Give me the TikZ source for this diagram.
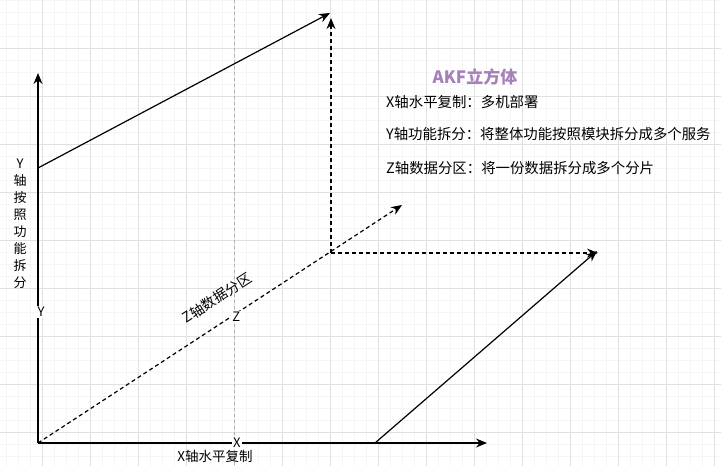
\documentclass[tikz,border=0pt]{standalone}
\usepackage{fontspec}
\setmainfont{Noto Sans CJK SC}
\usetikzlibrary{arrows.meta,positioning}
\definecolor{akfpurple}{HTML}{A680B8}
\tikzset{
    axis/.style = {draw, line width=1.2pt, -{Stealth[length=11pt,width=9pt]}},
    dasharrow/.style = {draw, line width=1.4pt, dash pattern=on 4pt off 3pt, -{Stealth[length=11pt,width=9pt,line width=0pt]}},
    axislbl/.style = {fill=white, inner sep=1pt, font=\fontsize{13}{15}\selectfont},
    lbl/.style = {inner sep=0pt, font=\fontsize{13}{17}\selectfont, align=center},
    note/.style = {anchor=west, inner sep=0pt, font=\fontsize{14.4}{17}\selectfont},
    gridminor/.style = {draw=black!4, line width=0.8pt},
    gridmajor/.style = {draw=black!12, line width=0.8pt},
    guide/.style = {draw=black!30, line width=0.8pt, dash pattern=on 3pt off 3pt}
}

\begin{document}
\begin{tikzpicture}[x=1pt,y=-1pt]
    \useasboundingbox (0,0) rectangle (721,466);
    \fill[white] (0,0) rectangle (721,466);
    % background grid
    \foreach \gx in {6,18,...,714} \draw[gridminor] (\gx,0) -- (\gx,466);
    \foreach \gy in {0,12,...,460} \draw[gridminor] (0,\gy) -- (721,\gy);
    \foreach \gx in {42,90,...,714} \draw[gridmajor] (\gx,0) -- (\gx,466);
    \foreach \gy in {48,96,...,432} \draw[gridmajor] (0,\gy) -- (721,\gy);
    \draw[guide] (234,0) -- (234,466);

    \coordinate (O) at (38,443);
    \coordinate (ytip) at (38,73);
    \coordinate (xtip) at (487,443);
    \coordinate (ztip) at (402,205);
    \coordinate (yup) at (38,168);
    \coordinate (ytop) at (330,13);
    \coordinate (corner) at (331,253);
    \coordinate (vtop) at (331,18);
    \coordinate (htip) at (598,253);
    \coordinate (xstart) at (375,443);
    \coordinate (rtip) at (597,251);

    % axes
    \draw [axis] (O) -- node[axislbl, pos=0.354, xshift=3pt] {Y} (ytip);
    \draw [axis] (O) -- node[axislbl, pos=0.443] {X} (xtip);
    \draw [dasharrow, line width=1.2pt] (O) -- node[axislbl, pos=0.545, yshift=-3pt] {Z} (ztip);

    % cube edges
    \draw [axis] (yup) -- (ytop);
    \draw [dasharrow] (corner) -- (vtop);
    \draw [dasharrow] (corner) -- (htip);
    \draw [axis] (xstart) -- (rtip);

    % axis captions
    \node [lbl] (ycap) at (20,224) {Y\\轴\\按\\照\\功\\能\\拆\\分};
    \node [lbl, font=\fontsize{13.5}{17}\selectfont] (xcap) at (215,456) {X轴水平复制};
    \node [lbl, rotate=33, font=\fontsize{14}{17}\selectfont] (zcap) at (217,298) {Z轴数据分区};

    % legend
    \node [font=\fontsize{17}{20}\selectfont\bfseries, text=akfpurple, inner sep=0pt] (title) at (475,77) {AKF立方体};
    \node [note] (xnote) at (386,102) {X轴水平复制：多机部署};
    \node [note] (ynote) at (386,134) {Y轴功能拆分：将整体功能按照模块拆分成多个服务};
    \node [note] (znote) at (386,168) {Z轴数据分区：将一份数据拆分成多个分片};
\end{tikzpicture}
\end{document}
